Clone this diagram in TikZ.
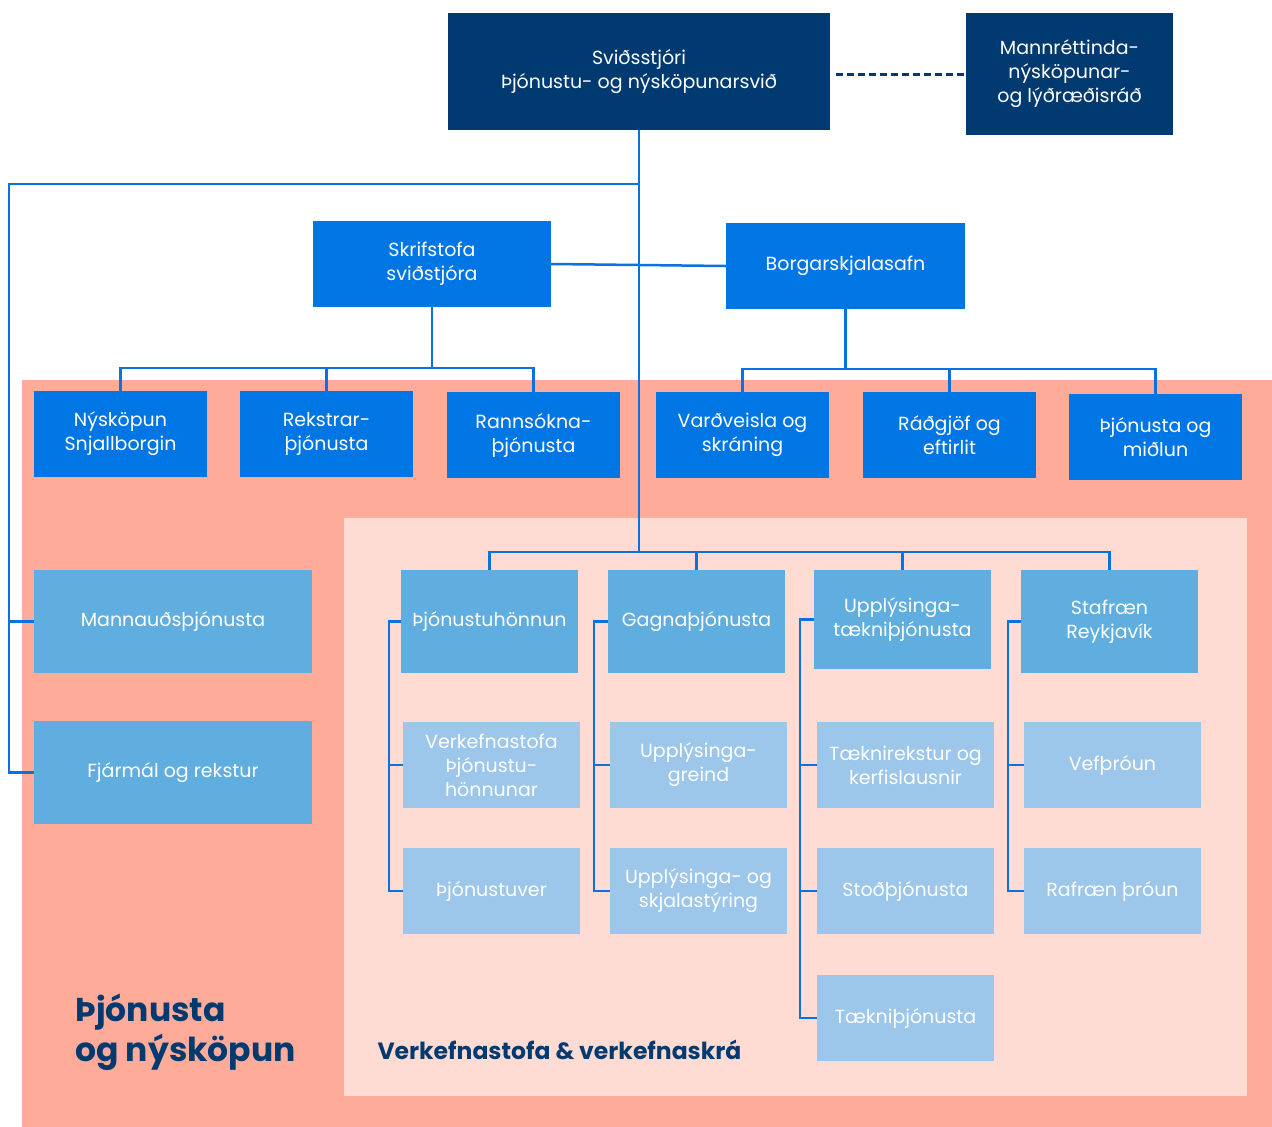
\documentclass[tikz,border=0pt]{standalone}
\usepackage{fontspec}
\setmainfont{Poppins}
\usetikzlibrary{arrows.meta}

\definecolor{navy}{HTML}{003A70}
\definecolor{brightblue}{HTML}{0076E4}
\definecolor{midblue}{HTML}{5FAEDF}
\definecolor{lightblue}{HTML}{9CC6EA}
\definecolor{salmon}{HTML}{FFAB99}
\definecolor{pale}{HTML}{FFDCD3}
\definecolor{linkblue}{HTML}{0A72E0}

\tikzset{
  box/.style={shape=rectangle, text=white, align=center, inner sep=0pt,
    font=\fontsize{19}{24}\selectfont},
  topbox/.style={box, fill=navy},
  unitbox/.style={box, fill=brightblue, minimum height=86pt},
  deptbox/.style={box, fill=midblue, minimum height=103pt},
  teambox/.style={box, fill=lightblue, minimum width=177pt, minimum height=86pt},
  link/.style={draw=linkblue, line width=2.5pt},
}

\begin{document}
\begin{tikzpicture}[x=1pt, y=-1pt]
	\useasboundingbox (0,0) rectangle (1272,1127);
	\fill [salmon] (22,380) rectangle (1272,1127);
	\fill [pale] (344,518) rectangle (1247,1096);

	\node [topbox, minimum width=382pt, minimum height=117pt] (0) at (639, 71.5) {Sviðsstjóri\\Þjónustu- og nýsköpunarsvið};
	\node [topbox, minimum width=207pt, minimum height=122pt] (1) at (1069.5, 74) {Mannréttinda-\\nýsköpunar-\\og lýðræðisráð};
	\node [unitbox, minimum width=238pt] (2) at (432, 264) {Skrifstofa\\sviðstjóra};
	\node [unitbox, minimum width=239pt] (3) at (845.5, 266) {Borgarskjalasafn};
	\node [unitbox, minimum width=173pt] (4) at (120.5, 434) {Nýsköpun\\Snjallborgin};
	\node [unitbox, minimum width=173pt] (5) at (326.5, 434) {Rekstrar-\\þjónusta};
	\node [unitbox, minimum width=173pt] (6) at (533.5, 435) {Rannsókna-\\þjónusta};
	\node [unitbox, minimum width=173pt] (7) at (742.5, 435) {Varðveisla og\\skráning};
	\node [unitbox, minimum width=173pt] (8) at (949.5, 435) {Ráðgjöf og\\eftirlit};
	\node [unitbox, minimum width=173pt] (9) at (1155.5, 437) {Þjónusta og\\miðlun};
	\node [deptbox, minimum width=278pt] (10) at (173, 621.5) {Mannauðsþjónusta};
	\node [deptbox, minimum width=278pt] (11) at (173, 772.5) {Fjármál og rekstur};
	\node [deptbox, minimum width=177pt] (12) at (489.5, 621.5) {Þjónustuhönnun};
	\node [deptbox, minimum width=177pt] (13) at (696.5, 621.5) {Gagnaþjónusta};
	\node [deptbox, minimum width=177pt, minimum height=99pt] (14) at (902.5, 619.5) {Upplýsinga-\\tækniþjónusta};
	\node [deptbox, minimum width=177pt] (15) at (1109.5, 621.5) {Stafræn\\Reykjavík};
	\node [teambox] (16) at (491.5, 765) {Verkefnastofa\\Þjónustu-\\hönnunar};
	\node [teambox] (17) at (491.5, 891) {Þjónustuver};
	\node [teambox] (18) at (698.5, 765) {Upplýsinga-\\greind};
	\node [teambox] (19) at (698.5, 891) {Upplýsinga- og\\skjalastýring};
	\node [teambox] (20) at (905.5, 765) {Tæknirekstur og\\kerfislausnir};
	\node [teambox] (21) at (905.5, 891) {Stoðþjónusta};
	\node [teambox] (22) at (905.5, 1018) {Tækniþjónusta};
	\node [teambox] (23) at (1112.5, 765) {Vefþróun};
	\node [teambox] (24) at (1112.5, 891) {Rafræn þróun};
	\node [anchor=west, align=left, text=navy, font=\fontsize{33}{40}\selectfont\bfseries] (25) at (72, 1032) {Þjónusta\\og nýsköpun};
	\node [anchor=west, text=navy, font=\fontsize{23.5}{28}\selectfont\bfseries] (26) at (374, 1050) {Verkefnastofa \& verkefnaskrá};

	% junctions
	\coordinate (a) at (639, 184);
	\coordinate (b) at (9, 184);
	\coordinate (c) at (639, 552);

	\draw [navy, line width=3pt, dash pattern=on 7pt off 4pt, shorten <=6pt] (0.east |- 1.west) -- (1.west);
	\draw [link] (0.south) -- (c);
	\draw [link] (a) -- (b) |- (10.west);
	\draw [link] (b) |- (11.west);
	\draw [link] (2.east) -- (3.west);
	\draw [link] (2.south) -- ++(0,61) -| (4.north);
	\draw [link] (2.south) -- ++(0,61) -| (5.north);
	\draw [link] (2.south) -- ++(0,61) -| (6.north);
	\draw [link] (3.south) -- ++(0,60) -| (7.north);
	\draw [link] (3.south) -- ++(0,60) -| (8.north);
	\draw [link] (3.south) -- ++(0,60) -| (9.north);
	\draw [link] (c) -| (12.north);
	\draw [link] (c) -| (13.north);
	\draw [link] (c) -| (14.north);
	\draw [link] (c) -| (15.north);
	\draw [link] (12.west) -- ++(-12,0) |- (16.west);
	\draw [link] (12.west) -- ++(-12,0) |- (17.west);
	\draw [link] (13.west) -- ++(-14,0) |- (18.west);
	\draw [link] (13.west) -- ++(-14,0) |- (19.west);
	\draw [link] (14.west) -- ++(-14,0) |- (20.west);
	\draw [link] (14.west) -- ++(-14,0) |- (21.west);
	\draw [link] (14.west) -- ++(-14,0) |- (22.west);
	\draw [link] (15.west) -- ++(-13,0) |- (23.west);
	\draw [link] (15.west) -- ++(-13,0) |- (24.west);
\end{tikzpicture}
\end{document}
